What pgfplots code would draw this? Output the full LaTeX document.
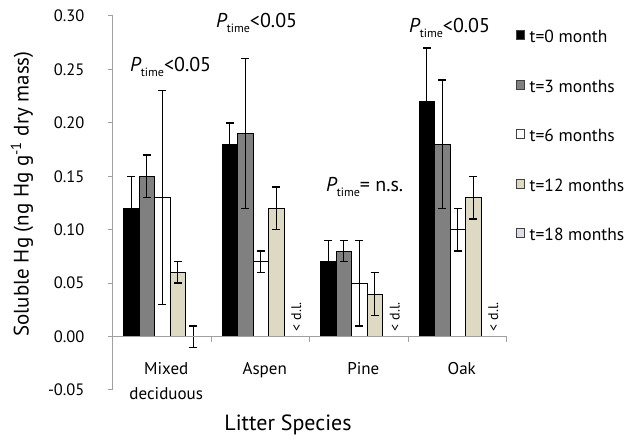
\documentclass[border=0pt]{standalone}
\usepackage{fontspec}
\setmainfont{PT Sans}
\usepackage{pgfplots}
\pgfplotsset{compat=1.18}
\definecolor{axisgray}{HTML}{A0A0A0}
\definecolor{midgray}{HTML}{808080}
\definecolor{beige}{HTML}{DDD9C3}
\definecolor{lav}{HTML}{DEDCE6}
\newcommand{\Pt}[1]{{\fontsize{20}{20}\selectfont\itshape P}\raisebox{-5pt}{\fontsize{12}{12}\selectfont time}{\fontsize{20}{20}\selectfont #1}}
\begin{document}
\begin{tikzpicture}[x=1pt,y=1pt]
\useasboundingbox (0,0) rectangle (638,441);
\begin{axis}[
  at={(113pt,51pt)}, anchor=south west,
  scale only axis, width=394pt, height=374pt,
  xmin=-0.5, xmax=3.5, ymin=-0.05, ymax=0.30,
  axis x line=middle, axis y line=left,
  axis line style={axisgray, line width=1pt, -},
  axis on top,
  ybar=0pt, bar width=0.157,
  xtick={0,1,2,3},
  xticklabels={{Mixed\\deciduous},Aspen,Pine,Oak},
  major x tick style={draw=none},
  minor xtick={-0.5,0.5,1.5,2.5,3.5},
  minor x tick style={axisgray, line width=1pt},
  minor tick length=5pt,
  tick align=outside,
  xticklabel style={align=center, font=\fontsize{17}{25}\selectfont, yshift=-17pt, xshift=4pt, anchor=north},
  ytick={-0.05,0,0.05,0.10,0.15,0.20,0.25,0.30},
  yticklabel style={font=\fontsize{16.5}{16}\selectfont, xshift=-20pt},
  major y tick style={axisgray, line width=1pt},
  major tick length=5pt,
  /pgf/number format/assume math mode=true,
  yticklabel={\pgfmathprintnumber[fixed, fixed zerofill, precision=2]{\tick}},
  error bars/y dir=both, error bars/y explicit,
  error bars/error bar style={black, line width=1.3pt},
  error bars/error mark options={black, line width=1.3pt, mark size=4pt, rotate=90},
  legend style={draw=none, fill=none, at={(1.015,0.968)}, anchor=north west,
    font=\fontsize{17.5}{17}\selectfont,
    nodes={inner sep=0pt, text height=12pt, text depth=3pt, anchor=west},
    row sep=33.7pt, column sep=5pt},
  legend image code/.code={\draw[#1, draw=black!75, line width=0.6pt] (0pt,-1pt) rectangle (8pt,8pt);},
  clip=false,
]
\addplot[fill=black, draw=black, line width=0.6pt] coordinates {
 (0,0.12) +- (0,0.03) (1,0.18) +- (0,0.02) (2,0.07) +- (0,0.02) (3,0.22) +- (0,0.05)};
\addplot[fill=midgray, draw=black, line width=0.6pt] coordinates {
 (0,0.15) +- (0,0.02) (1,0.19) +- (0,0.07) (2,0.08) +- (0,0.01) (3,0.18) +- (0,0.06)};
\addplot[fill=white, draw=black, line width=0.6pt] coordinates {
 (0,0.13) +- (0,0.10) (1,0.07) +- (0,0.01) (2,0.05) +- (0,0.04) (3,0.10) +- (0,0.02)};
\addplot[fill=beige, draw=black, line width=0.6pt] coordinates {
 (0,0.06) +- (0,0.01) (1,0.12) +- (0,0.02) (2,0.04) +- (0,0.02) (3,0.13) +- (0,0.02)};
\addplot[fill=lav, draw=black, line width=0.6pt] coordinates {
 (0,0.0) +- (0,0.01)};
\legend{t=0 month, t=3 months, t=6 months, t=12 months, t=18 months}
\node[anchor=base west, inner sep=0pt] at (axis cs:-0.327,0.2476) {\Pt{<0.05}};
\node[anchor=base west, inner sep=0pt] at (axis cs:0.546,0.2897) {\Pt{<0.05}};
\node[anchor=base west, inner sep=0pt] at (axis cs:1.662,0.1353) {\Pt{= n.s.}};
\node[anchor=base west, inner sep=0pt] at (axis cs:2.505,0.285) {\Pt{<0.05}};
\node[rotate=90, anchor=west, inner sep=0pt, font=\fontsize{14}{14}\selectfont] at (axis cs:1.36,0.005) {< d.l.};
\node[rotate=90, anchor=west, inner sep=0pt, font=\fontsize{14}{14}\selectfont] at (axis cs:2.36,0.005) {< d.l.};
\node[rotate=90, anchor=west, inner sep=0pt, font=\fontsize{14}{14}\selectfont] at (axis cs:3.36,0.005) {< d.l.};
\end{axis}
\node[rotate=90, font=\fontsize{21}{21}\selectfont] at (22,247) {Soluble Hg (ng Hg g\textsuperscript{-1} dry mass)};
\node[font=\fontsize{22}{22}\selectfont] at (288,16) {Litter Species};
\end{tikzpicture}
\end{document}
